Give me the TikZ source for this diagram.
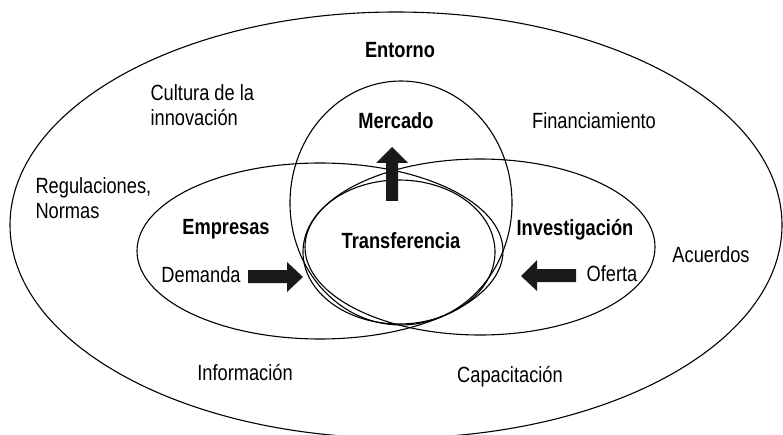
\documentclass[tikz,border=0pt]{standalone}
\usepackage{fontspec}
\setmainfont{Liberation Sans}[FakeStretch=0.83]
\tikzset{
  lbl/.style={anchor=base,inner sep=0pt,text=black},
  bold lbl/.style={lbl,font=\bfseries},
  blockarrow/.style={fill=black!90,draw=none}
}
\begin{document}
\begin{tikzpicture}[x=1pt,y=1pt,line width=1.1pt]
\fontsize{22}{25}\selectfont
\useasboundingbox (0,0) rectangle (783,434);
\clip (0,0) rectangle (783,434);
% sets
\draw (396,209) ellipse [x radius=386,y radius=213];
\draw (401,231) ellipse [x radius=111,y radius=122];
\draw (320,183) ellipse [x radius=183,y radius=88];
\draw (480,187) ellipse [x radius=175,y radius=88];
\draw (399,182) ellipse [x radius=96,y radius=72];
% labels (two-line nodes sit on their last line)
\node[bold lbl] (entorno) at (400,376) {Entorno};
\node[bold lbl] (mercado) at (396,305) {Mercado};
\node[bold lbl] (empresas) at (226,200) {Empresas};
\node[bold lbl] (investigacion) at (575,199) {Investigación};
\node[bold lbl] (transferencia) at (401,186) {Transferencia};
\node[lbl,anchor=base west,align=left] (cultura) at (150,308) {Cultura de la\\innovación};
\node[lbl] (financiamiento) at (594,305) {Financiamiento};
\node[lbl,anchor=base west,align=left] (regulaciones) at (35,215) {Regulaciones,\\Normas};
\node[lbl] (demanda) at (201,152) {Demanda};
\node[lbl] (oferta) at (612,153) {Oferta};
\node[lbl] (acuerdos) at (711,172) {Acuerdos};
\node[lbl] (informacion) at (245,54) {Información};
\node[lbl] (capacitacion) at (510,52) {Capacitación};
% block arrows
\fill[blockarrow] (248,151) -- (287,151) -- (287,142) -- (303,157) -- (287,172) -- (287,164) -- (248,164) -- cycle;
\fill[blockarrow] (576,152) -- (537,152) -- (537,143) -- (521,158) -- (537,174) -- (537,165) -- (576,165) -- cycle;
\fill[blockarrow] (386,233) -- (386,271) -- (376,271) -- (392,287) -- (408,271) -- (398,271) -- (398,233) -- cycle;
\end{tikzpicture}
\end{document}
